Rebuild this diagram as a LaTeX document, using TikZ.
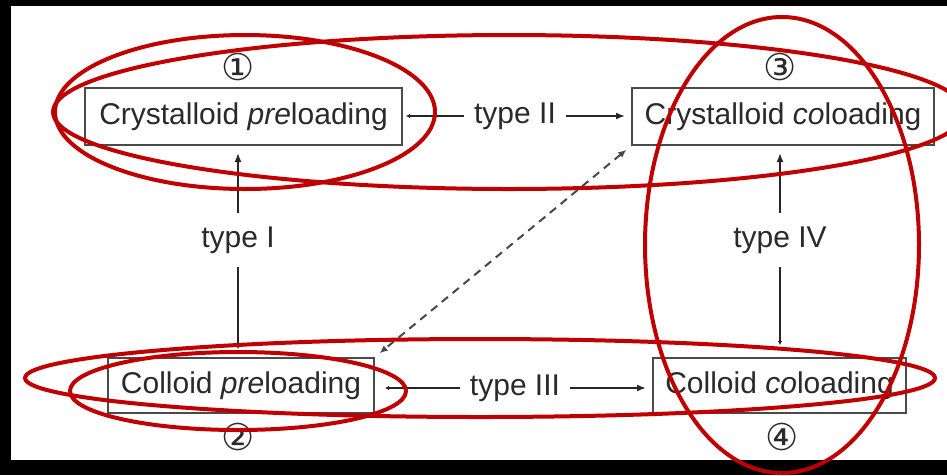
\documentclass[tikz,border=0pt]{standalone}
\usepackage{fontspec}
\setmainfont{Liberation Sans}
\newfontfamily\dejavu{DejaVu Sans}
\usetikzlibrary{arrows.meta}
\definecolor{ink}{HTML}{2A2A2A}
\definecolor{boxline}{HTML}{4A4A4A}
\definecolor{redmark}{HTML}{C00000}
\begin{document}
\begin{tikzpicture}[x=1pt,y=-1pt,
  box/.style={draw=boxline, line width=2pt, text=ink, font=\fontsize{30}{36}\selectfont, inner sep=0pt},
  lbl/.style={text=ink, font=\fontsize{30}{36}\selectfont, inner xsep=10pt, inner ysep=13pt},
  num/.style={text=ink, font=\dejavu\fontsize{37}{40}\selectfont, inner sep=0pt},
  conn/.style={line width=1.7pt, draw=black!85},
  bigtip/.style={-{Latex[length=9pt,width=7pt]}},
  smalltip/.style={-{Latex[length=4pt,width=4.5pt]}},
  dashlink/.style={line width=2pt, draw=black!72, dash pattern=on 8pt off 6pt, {Latex[length=8pt,width=7pt]}-{Latex[length=8pt,width=7pt]}},
  ring/.style={draw=redmark, line width=4pt}
]
\useasboundingbox (0,0) rectangle (947,475);
\fill[black] (0,0) rectangle (947,475);
\fill[white] (11,6) rectangle (947,460);

\node[box, minimum width=317pt, minimum height=57pt] (b1) at (243.5,116.5) {Crystalloid \textit{pre}loading};
\node[box, minimum width=302pt, minimum height=57pt] (b3) at (783,116.5) {Crystalloid \textit{co}loading};
\node[box, minimum width=266pt, minimum height=55pt] (b2) at (241,385.5) {Colloid \textit{pre}loading};
\node[box, minimum width=253pt, minimum height=55pt] (b4) at (779.5,385.5) {Colloid \textit{co}loading};

\node[num] (n1) at (238,67) {①};
\node[num] (n3) at (780,67) {③};
\node[num] (n2) at (238,437) {②};
\node[num] (n4) at (782,437) {④};

\node[lbl] (tII) at (515,116) {type II};
\node[lbl] (tIII) at (515,388) {type III};
\node[lbl] (tI) at (238,240) {type I};
\node[lbl] (tIV) at (780,240) {type IV};

\draw[conn, bigtip, shorten >=6pt] (tII.east) -- (b3.west |- tII.east);
\draw[conn, smalltip, shorten >=3pt] (tII.west) -- (b1.east |- tII.west);
\draw[conn, bigtip, shorten >=6pt] (tIII.east) -- (b4.west |- tIII.east);
\draw[conn, smalltip, shorten >=10pt] (tIII.west) -- (b2.east |- tIII.west);
\draw[conn, bigtip, shorten >=7pt] (tI.north) -- (tI.north |- b1.south);
\draw[conn, smalltip, shorten >=8pt] (tI.south) -- (tI.south |- b2.north);
\draw[conn, bigtip, shorten >=7pt] (tIV.north) -- (tIV.north |- b3.south);
\draw[conn, smalltip, shorten >=12pt] (tIV.south) -- (tIV.south |- b4.north);
\draw[dashlink, shorten <=6pt, shorten >=6pt] (b3.south west) -- (b2.north east);

\draw[ring] (245,112) ellipse (190pt and 77pt);
\draw[ring] (509,112) ellipse (456pt and 77pt);
\draw[ring] (782,245) ellipse (137pt and 228pt);
\draw[ring] (480,378) ellipse (455pt and 39pt);
\draw[ring] (238,391) ellipse (168pt and 39pt);
\end{tikzpicture}
\end{document}
